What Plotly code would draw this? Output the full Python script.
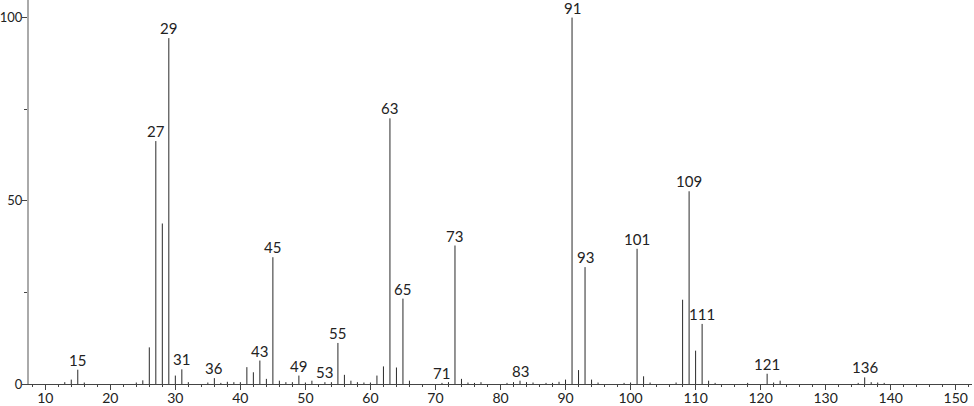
import plotly.graph_objects as go

# m/z values and relative intensities
mz = [13, 14, 15, 16, 24, 25, 26, 27, 28, 29, 30, 31, 32, 35, 36, 37, 38, 39, 40,
      41, 42, 43, 44, 45, 46, 47, 48, 49, 50, 51, 53, 54, 55, 56, 57, 58, 59, 60,
      61, 62, 63, 64, 65, 66, 71, 72, 73, 74, 75, 76, 77, 81, 82, 83, 84, 85, 87,
      88, 89, 90, 91, 92, 93, 94, 95, 99, 100, 101, 102, 103, 107, 108, 109, 110,
      111, 112, 113, 118, 121, 122, 123, 135, 136, 137, 138, 139]
intensity = [0.5, 1.2, 3.9, 0.4, 0.4, 1.0, 10.0, 66.3, 43.8, 94.4, 2.3, 4.0, 0.5,
             0.4, 1.6, 0.3, 0.6, 0.5, 0.5, 4.6, 3.2, 6.4, 1.4, 34.6, 0.9, 0.5, 0.5,
             2.3, 0.4, 0.9, 0.5, 0.5, 11.2, 2.5, 0.9, 0.5, 0.4, 0.4, 2.3, 4.8, 72.5,
             4.5, 23.3, 0.9, 0.3, 0.5, 37.8, 1.4, 0.4, 0.3, 0.5, 0.3, 0.5, 0.9, 0.5,
             0.4, 0.3, 0.3, 0.6, 1.2, 100.0, 3.8, 31.9, 1.2, 0.4, 0.3, 0.4, 36.9,
             2.1, 0.4, 0.4, 23.0, 52.6, 9.1, 16.4, 0.9, 0.3, 0.3, 2.8, 0.4, 0.9,
             0.3, 1.8, 0.5, 0.4, 0.3]
labeled = [15, 27, 29, 31, 36, 43, 45, 49, 53, 55, 63, 65, 71, 73, 83, 91, 93,
           101, 109, 111, 121, 136]
x_ticks = [10, 20, 30, 40, 50, 60, 70, 80, 90, 100, 110, 120, 130, 140, 150]
y_ticks = [0, 50, 100]

FONT = "Lato"
xs, ys = [], []
for m, v in zip(mz, intensity):
    xs += [m, m, None]
    ys += [0, v, None]

fig = go.Figure()
fig.add_trace(go.Scatter(x=xs, y=ys, mode="lines",
                         line=dict(color="#2a2a2a", width=1),
                         hoverinfo="skip", showlegend=False))

lookup = dict(zip(mz, intensity))
for m in labeled:
    fig.add_annotation(x=m, y=lookup[m], text=str(m), showarrow=False,
                       yanchor="bottom", yshift=-1,
                       font=dict(family=FONT, size=15, color="#222"))

fig.update_layout(
    width=974, height=406,
    margin=dict(l=29, r=2, t=0, b=22, autoexpand=False),
    paper_bgcolor="white", plot_bgcolor="white",
    font=dict(family=FONT, size=15, color="#222"),
    xaxis=dict(range=[7.5, 152.5], tickvals=x_ticks, ticks="outside",
               ticklen=5, tickcolor="#444", showgrid=False, zeroline=False,
               showline=True, linecolor="#444", linewidth=1, automargin=False,
               ticklabelstandoff=-4,
               minor=dict(dtick=2, tick0=0, ticks="outside", ticklen=2,
                          tickcolor="#444", showgrid=False),
               tickfont=dict(family=FONT, size=14, color="#222")),
    yaxis=dict(range=[0, 104.8], tickvals=y_ticks, ticks="outside",
               ticklen=5, tickcolor="#444", showgrid=False, zeroline=False,
               showline=True, linecolor="#aaaaaa", linewidth=2, automargin=False,
               ticklabelstandoff=-3,
               minor=dict(dtick=25, tick0=0, ticks="outside", ticklen=3,
                          tickcolor="#444", showgrid=False),
               tickfont=dict(family=FONT, size=13, color="#222")),
)

fig.write_html("out.html",
               config={"displayModeBar": False},
               post_script="document.body.style.margin='0';"
                           "document.body.style.overflow='hidden';")
